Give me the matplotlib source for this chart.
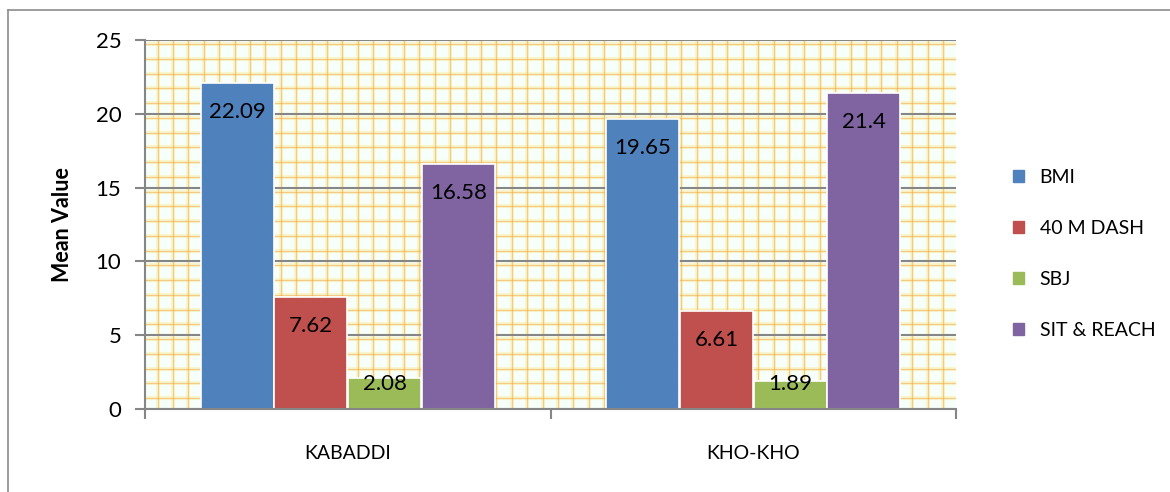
import matplotlib
matplotlib.use("Agg")
import matplotlib.pyplot as plt
from matplotlib.lines import Line2D
import numpy as np

categories = ["KABADDI", "KHO-KHO"]
series_names = ["BMI", "40 M DASH", "SBJ", "SIT & REACH"]
bmi = [22.09, 19.65]
dash40 = [7.62, 6.61]
sbj = [2.08, 1.89]
sit_reach = [16.58, 21.4]
label_texts = [["22.09", "19.65"], ["7.62", "6.61"], ["2.08", "1.89"], ["16.58", "21.4"]]
y_ticks = [0, 5, 10, 15, 20, 25]

colors = ["#4f81bd", "#c0504d", "#9bbb59", "#8064a2"]
FONT = ["Lato", "DejaVu Sans"]
plt.rcParams["font.family"] = FONT

W, H, DPI = 1170, 492, 100
fig = plt.figure(figsize=(W / DPI, H / DPI), dpi=DPI)
fig.patch.set_facecolor("white")

# outer chart border
bx, by = 8 / W, 1 - 10 / H
fig.add_artist(Line2D([bx, bx], [by, 0], color="#8c8c8c", lw=1.2, transform=fig.transFigure))
fig.add_artist(Line2D([bx, 1], [by, by], color="#8c8c8c", lw=1.2, transform=fig.transFigure))

left, right, top, bottom = 145, 956, 40, 409
ax = fig.add_axes([left / W, 1 - bottom / H, (right - left) / W, (bottom - top) / H])
ax.set_facecolor("#f6fffa")
ax.set_xlim(-0.5, 1.5)
ax.set_ylim(0, 25)

# plaid background texture
aw = right - left
ah = bottom - top
xs = np.arange(12.6, aw, 15.4) / aw
ys = 1 - np.arange(4.0, ah, 14.76) / ah
for xf in xs:
    ax.axvline(xf * 2 - 0.5, color="#ffe98f", lw=3.0, alpha=0.4, zorder=0.1)
    ax.axvline(xf * 2 - 0.5, color="#eea84c", lw=0.9, alpha=0.55, zorder=0.2)
for yf in ys:
    ax.axhline(yf * 25, color="#ffe98f", lw=3.0, alpha=0.4, zorder=0.1)
    ax.axhline(yf * 25, color="#eea84c", lw=0.9, alpha=0.55, zorder=0.2)

# major gridlines
for t in y_ticks:
    ax.axhline(t, color="#868686", lw=1.5, zorder=0.5)

data = [bmi, dash40, sbj, sit_reach]
x = np.arange(len(categories))
bw = 0.18
step = 0.182
offsets = (np.arange(4) - 1.5) * step
px_per_unit = ah / 25.0
for i, (vals, col) in enumerate(zip(data, colors)):
    ax.bar(x + offsets[i], vals, width=bw, color=col, edgecolor="white",
           linewidth=1.2, zorder=2, label=series_names[i])
    for j, v in enumerate(vals):
        top_px = v * px_per_unit
        if top_px - 29 >= 25:
            anchor, off = v, -29
        else:
            anchor, off = 0, 25
        ax.annotate(label_texts[i][j], (x[j] + offsets[i], anchor),
                    xytext=(0, off * 72 / DPI), textcoords="offset points",
                    ha="center", va="center", fontsize=16, color="black", zorder=3)

ax.set_yticks(y_ticks)
ax.set_yticklabels([str(t) for t in y_ticks], fontsize=16)
ax.set_xticks([-0.5, 0.5, 1.5])
ax.set_xticklabels([])
ax.set_xticks(x, minor=True)
ax.set_xticklabels(categories, minor=True, fontsize=14)
ax.tick_params(axis="x", which="minor", length=0, pad=26)
ax.tick_params(axis="x", which="major", length=7, color="#868686", width=1.5, direction="out")
ax.tick_params(axis="y", length=7, color="#868686", width=1.5, direction="out", pad=10)
for s in ["top", "right"]:
    ax.spines[s].set_visible(False)
for s in ["left", "bottom"]:
    ax.spines[s].set_color("#868686")
    ax.spines[s].set_linewidth(1.5)
    ax.spines[s].set_zorder(4)

ax.set_ylabel("Mean Value", fontsize=15.5, fontweight="bold", labelpad=16)

handles = [plt.Rectangle((0, 0), 1, 1, color=c) for c in colors]
fig.legend(handles, series_names, loc="center left", bbox_to_anchor=(995 / W, 1 - 254 / H),
           frameon=False, fontsize=14, handlelength=0.6, handleheight=0.6,
           handletextpad=0.8, labelspacing=1.75)

fig.savefig("out.png", dpi=DPI, facecolor="white")
